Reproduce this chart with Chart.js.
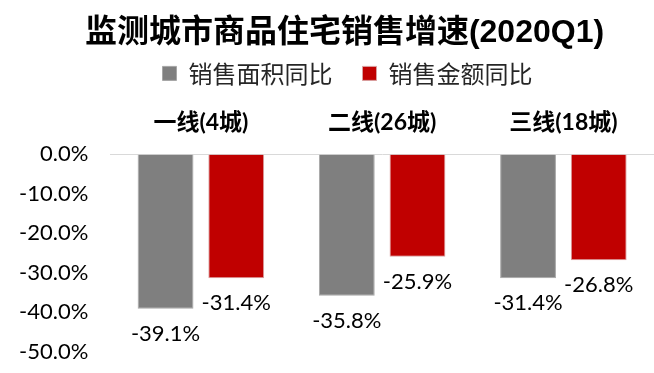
<!DOCTYPE html>
<html>
<head>
<meta charset="utf-8">
<script src="https://cdn.jsdelivr.net/npm/chart.js@4.4.1/dist/chart.umd.min.js"></script>
<style>
  html, body { margin: 0; padding: 0; background: #fff; }
  #wrap { width: 654px; height: 373px; }
</style>
</head>
<body>
<div id="wrap"><canvas id="salesChart"></canvas></div>
<script>
// 监测城市商品住宅销售增速(2020Q1)
const categories = ['一线(4城)', '二线(26城)', '三线(18城)'];
const areaYoY = [-39.1, -35.8, -31.4];    // 销售面积同比
const amountYoY = [-31.4, -25.9, -26.8];  // 销售金额同比
const yTicks = [0, -10, -20, -30, -40, -50];

const numFont = 'Lato, "Noto Sans CJK SC", sans-serif';
const cjkFont = '"Liberation Sans", "Noto Sans CJK SC", sans-serif';

// 柱子下方的数值标签
const valueLabels = {
    id: 'valueLabels',
    afterDatasetsDraw(chart) {
        const ctx = chart.ctx;
        ctx.save();
        ctx.font = '22px ' + numFont;
        ctx.fillStyle = '#000';
        ctx.textAlign = 'center';
        ctx.textBaseline = 'middle';
        chart.data.datasets.forEach((ds, i) => {
            chart.getDatasetMeta(i).data.forEach((bar, j) => {
                ctx.fillText(ds.data[j].toFixed(1) + '%', bar.x, bar.y + 25);
            });
        });
        ctx.restore();
    }
};

// 标题和图例整体略偏右
const shiftHeader = {
    id: 'shiftHeader',
    afterLayout(chart) {
        if (chart.titleBlock) { chart.titleBlock.left += 12; chart.titleBlock.right += 12; }
        if (chart.legend) { chart.legend.left += 15; chart.legend.right += 15; }
    }
};

const ctx = document.getElementById('salesChart').getContext('2d');
new Chart(ctx, {
    type: 'bar',
    data: {
        labels: categories,
        datasets: [{
            label: '销售面积同比',
            data: areaYoY,
            backgroundColor: '#7f7f7f',
            borderColor: '#a6a6a6',
            borderWidth: 1
        }, {
            label: '销售金额同比',
            data: amountYoY,
            backgroundColor: '#c00000',
            borderColor: '#d9a0a0',
            borderWidth: 1
        }]
    },
    options: {
        responsive: true,
        maintainAspectRatio: false,
        animation: false,
        categoryPercentage: 0.78,
        barPercentage: 0.79,
        layout: { padding: { left: 11, right: 0, top: 0, bottom: 0 } },
        plugins: {
            title: {
                display: true,
                text: '监测城市商品住宅销售增速(2020Q1)',
                color: '#000',
                font: { family: cjkFont, size: 32, weight: 'bold' },
                padding: { top: 14, bottom: -21 }
            },
            legend: {
                position: 'top',
                labels: {
                    color: '#262626',
                    font: { family: '"Noto Sans CJK SC", sans-serif', size: 24 },
                    boxWidth: 14,
                    boxHeight: 14,
                    padding: 30
                }
            },
            tooltip: { enabled: false }
        },
        scales: {
            x: {
                position: 'top',
                grid: { display: false, drawTicks: true, tickLength: 4 },
                border: { display: true, color: '#d9d9d9', width: 1 },
                ticks: {
                    color: '#000',
                    padding: 16,
                    font: { family: numFont, size: 23, weight: 'bold', lineHeight: 1 }
                }
            },
            y: {
                min: -50,
                max: 0,
                afterBuildTicks: (scale) => {
                    scale.ticks = yTicks.map(v => ({ value: v }));
                },
                grid: { display: false, drawTicks: true, tickLength: 14 },
                border: { display: false },
                ticks: {
                    color: '#000',
                    padding: 8,
                    font: { family: numFont, size: 22 },
                    callback: (value) => value.toFixed(1) + '%'
                }
            }
        }
    },
    plugins: [valueLabels, shiftHeader]
});
</script>
</body>
</html>
